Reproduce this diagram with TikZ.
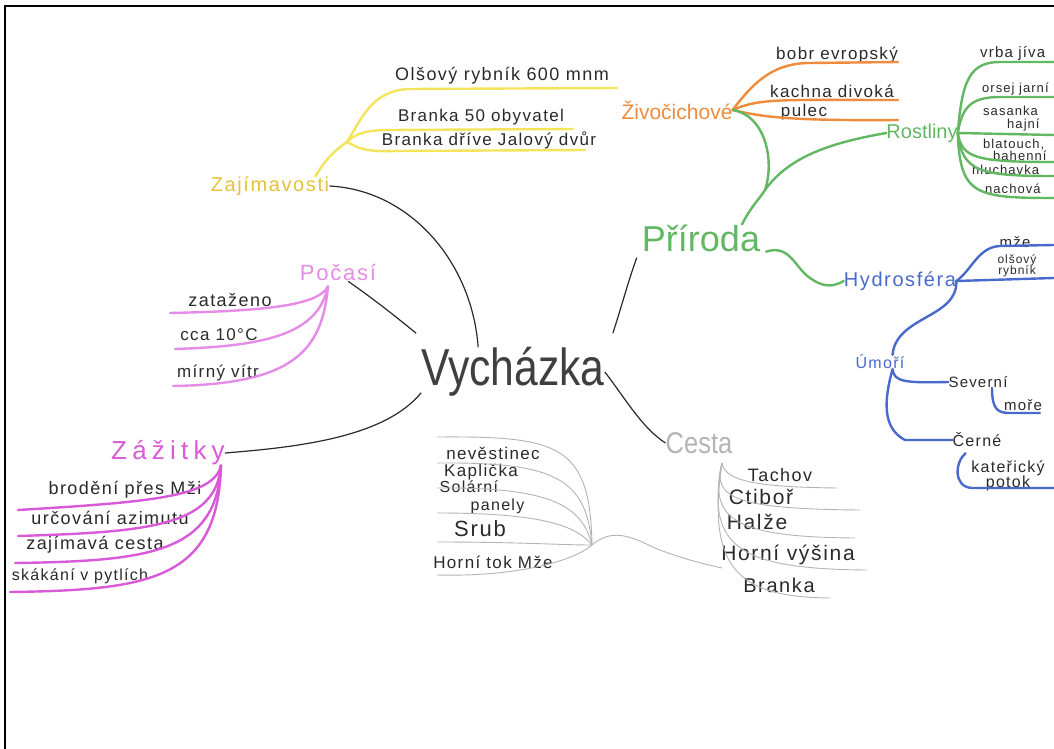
\documentclass[tikz,border=0pt]{standalone}
\usepackage{fontspec}
\setmainfont{Liberation Sans}
\newfontfamily\handfont[LetterSpace=8]{Liberation Sans}
\newfontfamily\widefont[LetterSpace=20]{Liberation Sans}
\usepackage{xcolor}
\usepackage{tikz}
\usetikzlibrary{positioning}

\definecolor{zlutaline}{HTML}{F3E45C}
\definecolor{zlutatext}{HTML}{E6C23C}
\definecolor{ruzova}{HTML}{E58CE8}
\definecolor{fialova}{HTML}{D95AD9}
\definecolor{oranzova}{HTML}{EE8B3C}
\definecolor{zelena}{HTML}{62B862}
\definecolor{modra}{HTML}{4A69CC}
\definecolor{seda}{HTML}{B4B4B4}
\definecolor{tuzka}{HTML}{2A2A2A}

\begin{document}
\begin{tikzpicture}[x=1pt, y=-1pt,
    every node/.style={inner sep=0pt},
    hand/.style={font=\handfont\fontsize{#1}{#1}\selectfont, text=tuzka},
    title/.style={font=\handfont\fontsize{#1}{#1}\selectfont},
    link/.style={draw=tuzka, line width=1.2pt},
    fix/.style={line width=2.4pt, line cap=round},
    faint/.style={draw=seda, line width=0.9pt}
]

\useasboundingbox (0,0) rectangle (1054,749);
\fill[white] (0,0) rectangle (1054,749);
\clip (0,0) rectangle (1054,749);
\draw[line width=1.8pt] (5,749) -- (5,6) -- (1054,6);

\node[font=\fontsize{52}{52}\selectfont, text=tuzka!90] (vych) at (513,372) {\scalebox{0.82}[1]{Vycházka}};

% Zajimavosti
\node[title=20, text=zlutatext] (zaj) at (270,186) {Zajímavosti};
\node[hand=18] (zaj1) at (502,76) {Olšový rybník 600 mnm};
\node[hand=17] (zaj2) at (481,117) {Branka 50 obyvatel};
\node[hand=17] (zaj3) at (489,140) {Branka dříve Jalový dvůr};
\coordinate (zajf) at (347,142);
\coordinate (zaje1) at (617,88);
\coordinate (zaje2) at (573,129);
\coordinate (zaje3) at (585,150);
\draw[fix, zlutaline] ([xshift=-14pt]zaj.north east) .. controls (325,160) and (335,150) .. (zajf);
\draw[fix, zlutaline] (zajf) .. controls (362,118) and (372,90) .. (410,89) -- (zaje1);
\draw[fix, zlutaline] (zajf) .. controls (355,134) and (365,130) .. (390,130) -- (zaje2);
\draw[fix, zlutaline] (zajf) .. controls (358,148) and (365,152) .. (395,151) -- (zaje3);
\draw[link] (zaj.east) .. controls (410,190) and (472,262) .. ([xshift=57pt]vych.north west);

% Pocasi
\node[title=22, text=ruzova] (poc) at (338,273) {Počasí};
\node[hand=18] (poc1) at (230,300) {zataženo};
\node[hand=17] (poc2) at (219,335) {cca 10°C};
\node[hand=17] (poc3) at (218,373) {mírný vítr};
\coordinate (pocf) at ([xshift=-10pt,yshift=-5pt]poc.south);
\coordinate (pe1) at (170,313);
\coordinate (pe2) at (175,349);
\coordinate (pe3) at (173,386);
\draw[fix, ruzova] (pocf) .. controls (318,306) and (262,311) .. (pe1);
\draw[fix, ruzova] (pocf) .. controls (318,332) and (272,346) .. (pe2);
\draw[fix, ruzova] (pocf) .. controls (322,352) and (292,384) .. (pe3);
\draw[link] ([xshift=-28pt]poc.south east) .. controls (375,300) and (395,316) .. ([xshift=-5pt,yshift=14pt]vych.north west);

% Zazitky
\node[font=\widefont\fontsize{26}{26}\selectfont, text=fialova] (zaz) at (168,453) {Zážitky};
\node[hand=18] (zaz1) at (125,490) {brodění přes Mži};
\node[hand=18] (zaz2) at (110,518) {určování azimutu};
\node[hand=18] (zaz3) at (95,545) {zajímavá cesta};
\node[hand=16] (zaz4) at (80,576) {skákání v pytlích};
\coordinate (zazf) at ([xshift=-4pt]zaz.south east);
\coordinate (ze1) at (18,510);
\coordinate (ze2) at (18,536);
\coordinate (ze3) at (15,563);
\coordinate (ze4) at (10,592);
\draw[fix, fialova] (zazf) .. controls (214,497) and (150,502) .. (ze1);
\draw[fix, fialova] (zazf) .. controls (216,526) and (150,532) .. (ze2);
\draw[fix, fialova] (zazf) .. controls (217,553) and (150,561) .. (ze3);
\draw[fix, fialova] (zazf) .. controls (218,580) and (150,590) .. (ze4);
\draw[link] (zaz.east) .. controls (300,447) and (385,437) .. ([yshift=4pt]vych.south west);

% bez barvy
\node[hand=17] (n1) at (493,453) {nevěstinec};
\node[hand=17] (n2) at (481,472) {Kaplička};
\node[hand=16, align=left] (n3) at (482,497) {Solární\\[2pt]\hspace*{31pt}panely};
\node[hand=22] (n4) at (480,529) {Srub};
\node[hand=17] (n5) at (493,562) {Horní tok Mže};
\coordinate (gf) at (592,545);
\coordinate (ge1) at (437,437);
\coordinate (ge2) at (437,463);
\coordinate (ge3) at (437,488);
\coordinate (ge4) at (437,513);
\coordinate (ge5) at (437,542);
\coordinate (ge6) at (437,575);
\draw[faint] (ge1) .. controls (560,436) and (590,445) .. (gf);
\draw[faint] (ge2) .. controls (555,462) and (586,478) .. (gf);
\draw[faint] (ge3) .. controls (550,487) and (582,505) .. (gf);
\draw[faint] (ge4) .. controls (540,513) and (576,525) .. (gf);
\draw[faint] (ge5) .. controls (520,542) and (560,545) .. (gf);
\draw[faint] (ge6) .. controls (520,577) and (575,560) .. (gf);

% Cesta
\node[font=\fontsize{30}{30}\selectfont, text=seda] (cesta) at (699,443) {\scalebox{0.85}[1]{Cesta}};
\node[hand=18] (c1) at (780,475) {Tachov};
\node[hand=21] (c2) at (761,497) {Ctiboř};
\node[hand=21] (c3) at (757,522) {Halže};
\node[hand=21] (c4) at (788,555) {Horní výšina};
\node[hand=20] (c5) at (779,585) {Branka};
\coordinate (cs) at (722,463);
\coordinate (cj) at (722,568);
\coordinate (ce1) at (837,488);
\coordinate (ce2) at (860,510);
\coordinate (ce3) at (855,538);
\coordinate (ce4) at (867,570);
\coordinate (ce5) at (830,598);
\draw[faint] (cs) .. controls (725,482) and (760,487) .. (ce1);
\draw[faint] (cs) .. controls (712,498) and (735,509) .. (ce2);
\draw[faint] (cs) .. controls (708,520) and (735,537) .. (ce3);
\draw[faint] (cs) .. controls (705,548) and (740,569) .. (ce4);
\draw[faint] (cs) .. controls (705,575) and (745,597) .. (ce5);
\draw[faint] (gf) .. controls (612,528) and (630,536) .. (655,548) .. controls (680,558) and (700,563) .. (cj);
\draw[link] (vych.east) .. controls (625,398) and (642,428) .. (cesta.west);

% Priroda
\node[font=\fontsize{36}{36}\selectfont, text=zelena] (pri) at (701,238) {Příroda};
\draw[link] ([xshift=8pt,yshift=14pt]vych.north east) .. controls (622,305) and (628,282) .. ([xshift=-5pt,yshift=-6pt]pri.south west);

\node[font=\fontsize{21}{21}\selectfont, text=oranzova] (ziv) at (677,110) {Živočichové};
\node[hand=17] (z1) at (837,55) {bobr evropský};
\node[hand=17] (z2) at (832,91) {kachna divoká};
\node[hand=17] (z3) at (804,112) {pulec};
\coordinate (oe1) at (898,62);
\coordinate (oe2) at (898,100);
\coordinate (oe3) at (898,120);
\draw[fix, oranzova] (ziv.east) .. controls (755,80) and (775,63) .. (810,63) -- (oe1);
\draw[fix, oranzova] (ziv.east) .. controls (760,98) and (780,100) .. (oe2);
\draw[fix, oranzova] (ziv.east) .. controls (760,116) and (780,121) .. (oe3);

\node[font=\fontsize{20}{20}\selectfont, text=zelena] (ros) at (922,133) {Rostliny};
\node[hand=15, anchor=west] (r1) at (980,54) {vrba jíva};
\node[hand=13, anchor=west] (r2) at (982,89) {orsej jarní};
\node[hand=13, anchor=west, align=left] (r3) at (983,119) {sasanka\\[0pt]\hspace*{24pt}hajní};
\node[hand=13, anchor=west, align=left] (r4) at (983,150) {blatouch,\\[-1pt]\hspace*{10pt}bahenní};
\node[hand=13, anchor=west, align=left] (r5) at (972,179) {hluchavka\\[6pt]\hspace*{13pt}nachová};
\coordinate (re1) at (1054,62);
\coordinate (re2) at (1054,97);
\coordinate (re3) at (1054,135);
\coordinate (re4) at (1054,162);
\coordinate (re5) at (1054,176);
\coordinate (re6) at (1054,198);
\draw[fix, zelena] (ros.east) .. controls (962,80) and (970,62) .. (1000,62) -- (re1);
\draw[fix, zelena] (ros.east) .. controls (962,108) and (970,97) .. (1000,97) -- (re2);
\draw[fix, zelena] (ros.east) -- (re3);
\draw[fix, zelena] (ros.east) .. controls (962,158) and (975,162) .. (re4);
\draw[fix, zelena] (ros.east) .. controls (962,172) and (980,176) .. (re5);
\draw[fix, zelena] (ros.east) .. controls (960,195) and (975,198) .. (re6);

\coordinate (prif) at (765,190);
\draw[fix, zelena] ([xshift=41pt]pri.north) .. controls (750,208) and (760,198) .. (prif);
\draw[fix, zelena] (prif) .. controls (775,160) and (765,115) .. (ziv.east);
\draw[fix, zelena] (prif) .. controls (790,155) and (835,142) .. (ros.west);

% Hydrosfera
\node[title=20, text=modra] (hyd) at (900,281) {Hydrosféra};
\draw[fix, zelena] ([xshift=6pt]pri.south east) .. controls (790,244) and (795,268) .. (810,278) .. controls (820,285) and (830,289) .. (hyd.west);
\node[hand=15] (h1) at (1015,242) {mže};
\node[hand=12, align=center] (h2) at (1017,266) {olšový\\[-1pt]rybník};
\coordinate (he1) at (1054,245);
\coordinate (he2) at (1054,278);
\draw[fix, modra] (hyd.east) .. controls (972,270) and (978,247) .. (1000,246) -- (he1);
\draw[fix, modra] (hyd.east) -- (he2);

\node[title=16, text=modra] (umo) at (880,362) {Úmoří};
\draw[fix, modra] (hyd.east) .. controls (958,318) and (896,316) .. ([xshift=-12pt]umo.north east);
\node[hand=15] (sev) at (978,382) {Severní};
\node[hand=15] (mor) at (1023,405) {moře};
\node[hand=16] (cer) at (977,440) {Černé};
\node[hand=16, align=center] (kat) at (1008,476) {kateřický\\[-1pt]potok};
\coordinate (moe) at (1040,413);
\coordinate (ke) at (1054,488);
\draw[fix, modra] ([xshift=-12pt]umo.south east) .. controls (894,382) and (905,383) .. (sev.west);
\draw[fix, modra] ([xshift=-12pt]umo.south east) .. controls (884,400) and (882,428) .. (905,440) -- (cer.west);
\draw[fix, modra] ([xshift=14pt]sev.south) .. controls (992,410) and (998,413) .. (1010,413) -- (moe);
\draw[fix, modra] ([xshift=13pt,yshift=-6pt]cer.south west) .. controls (955,462) and (953,487) .. (972,488) -- (ke);

\end{tikzpicture}
\end{document}
